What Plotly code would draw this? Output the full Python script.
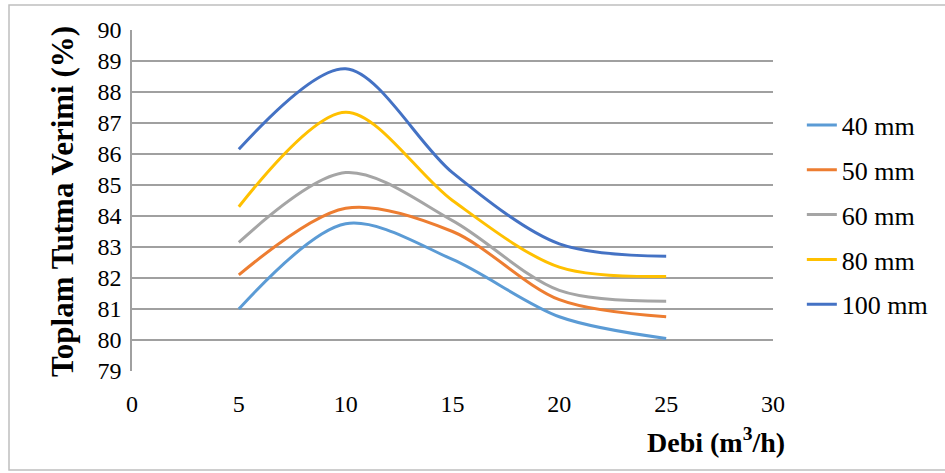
import plotly.graph_objects as go

debi = [5, 10, 15, 20, 25]
series_names = ["40 mm", "50 mm", "60 mm", "80 mm", "100 mm"]
v40 = [81.0, 83.75, 82.6, 80.75, 80.05]
v50 = [82.1, 84.25, 83.5, 81.3, 80.75]
v60 = [83.15, 85.4, 83.85, 81.6, 81.25]
v80 = [84.3, 87.35, 84.5, 82.35, 82.05]
v100 = [86.15, 88.75, 85.4, 83.1, 82.7]
colors = ["#5B9BD5", "#ED7D31", "#A5A5A5", "#FFC000", "#4472C4"]
x_ticks = [0, 5, 10, 15, 20, 25, 30]
y_ticks = list(range(79, 91))

W, H = 945, 473
L, R, T, B = 132, 172, 30, 102

fig = go.Figure()
for name, vals, c in zip(series_names, [v40, v50, v60, v80, v100], colors):
    fig.add_trace(go.Scatter(
        x=debi, y=vals, name=name, mode="lines",
        line=dict(color=c, width=3, shape="spline", smoothing=0.9),
        legendgroup=name,
    ))

font_family = "Liberation Serif, Times New Roman, serif"
fig.update_layout(
    width=W, height=H,
    margin=dict(l=L, r=R, t=T, b=B),
    paper_bgcolor="white", plot_bgcolor="white",
    font=dict(family=font_family, size=24, color="black"),
    showlegend=True,
    legend=dict(x=1.045, y=0.79, xanchor="left", yanchor="top",
                font=dict(size=26, family=font_family),
                tracegroupgap=8, bgcolor="rgba(0,0,0,0)"),
    xaxis=dict(range=[0, 30], tickvals=x_ticks, showgrid=False, zeroline=False,
               showline=False, ticks="", tickfont=dict(size=24),
               ticklabelstandoff=16),
    yaxis=dict(range=[79, 90], tickvals=y_ticks, showgrid=True,
               gridcolor="#a0a0a0", gridwidth=1.5, zeroline=False,
               showline=True, linecolor="#a0a0a0", linewidth=1.5, ticks="",
               tickfont=dict(size=24), ticklabelstandoff=4),
)

pw = W - L - R
ph = H - T - B
def px_to_paper_x(px):
    return (px - L) / pw
def px_to_paper_y(py):
    return 1 - (py - T) / ph

fig.add_annotation(text="<b>Toplam Tutma Verimi (%)</b>", textangle=-90,
                   xref="paper", yref="paper",
                   x=px_to_paper_x(62), y=px_to_paper_y(202),
                   xanchor="center", yanchor="middle",
                   showarrow=False, font=dict(size=31, family=font_family))
fig.add_annotation(text="<b>Debi (m<sup>3</sup>/h)</b>",
                   xref="paper", yref="paper",
                   x=px_to_paper_x(787), y=px_to_paper_y(440),
                   xanchor="right", yanchor="middle",
                   showarrow=False, font=dict(size=28, family=font_family))
fig.add_shape(type="rect", xref="paper", yref="paper",
              x0=px_to_paper_x(9), x1=px_to_paper_x(950),
              y0=px_to_paper_y(470), y1=px_to_paper_y(5),
              line=dict(color="#bfbfbf", width=1.5), layer="below")

fig.write_html("out.html", post_script="document.body.style.margin='0px';",
               config={"displayModeBar": False})
